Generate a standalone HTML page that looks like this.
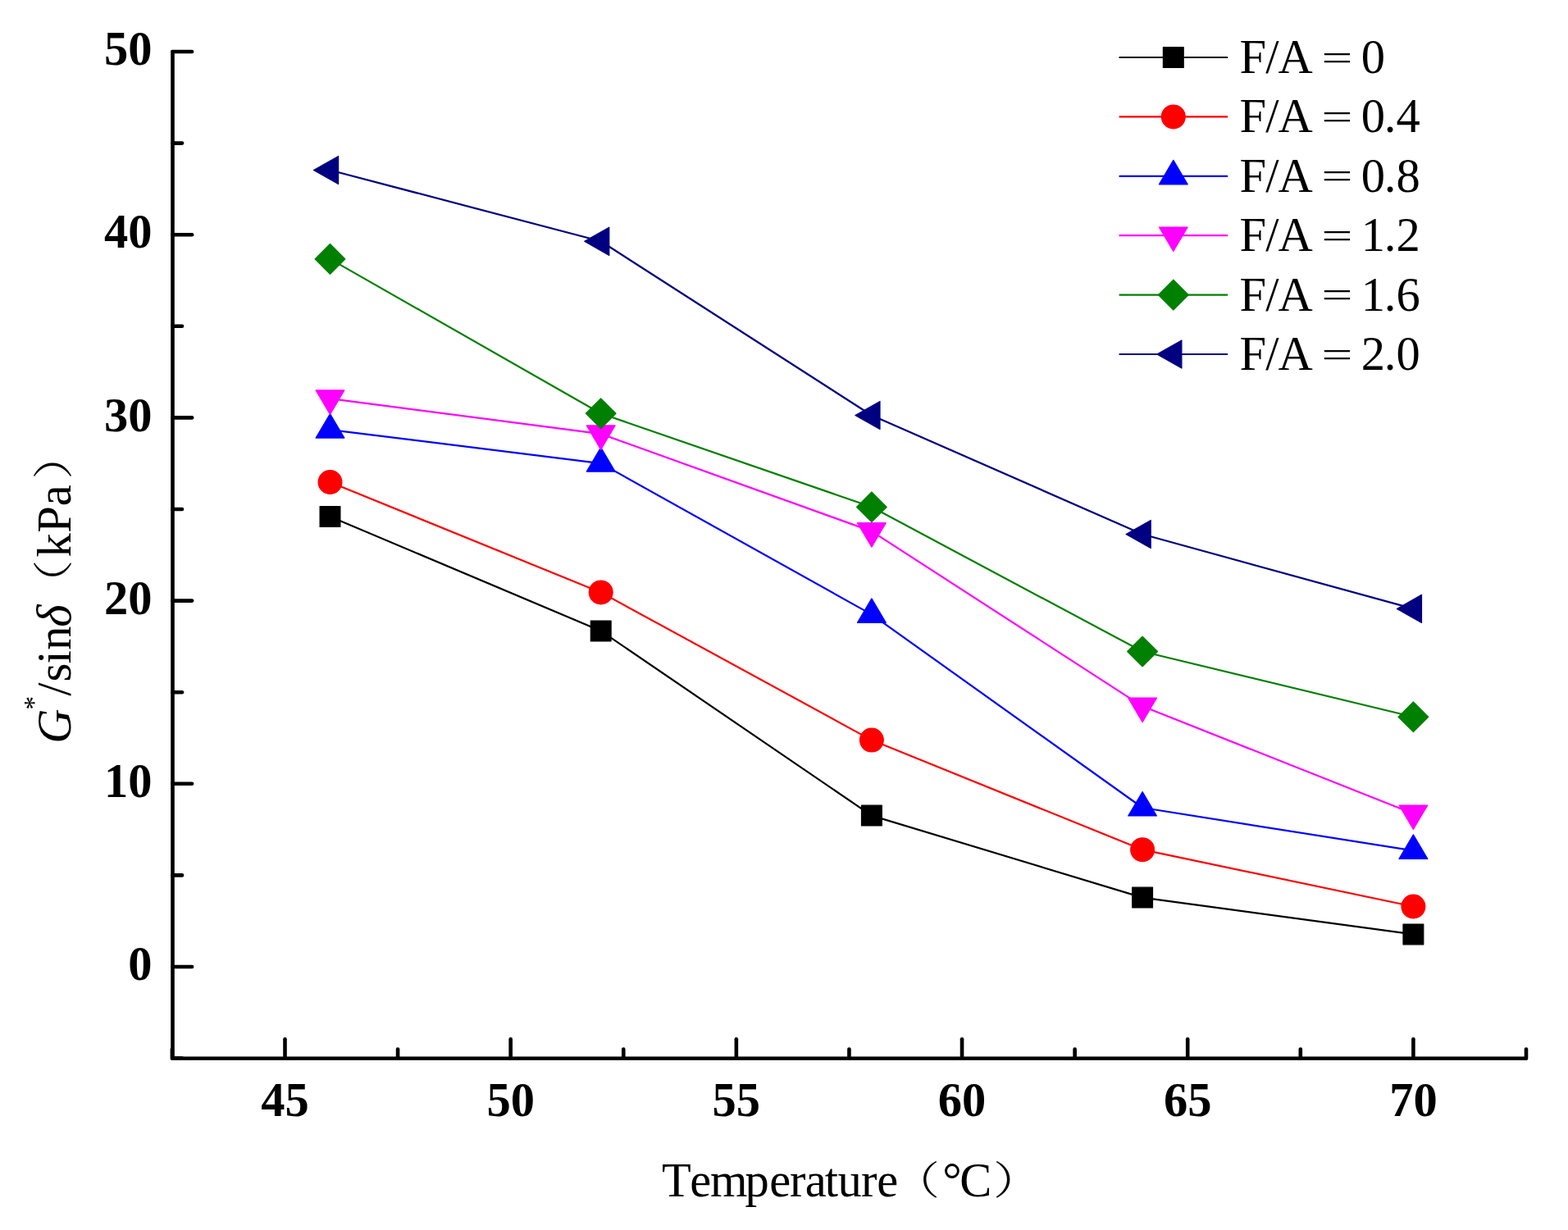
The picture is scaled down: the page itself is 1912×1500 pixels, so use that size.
<!DOCTYPE html>
<html><head><meta charset="utf-8"><title>G*/sin δ vs Temperature</title>
<style>html,body{margin:0;padding:0;background:#fff;}svg{display:block;}</style>
</head><body>
<svg width="1912" height="1500" viewBox="0 0 1912 1500"><g fill="none" stroke="#000" stroke-width="4.6" stroke-linecap="round" stroke-linejoin="round"><path d="M210.5,63.0 L210.5,1290.8 L1860.5,1290.8" /><path d="M210.5,1290.60 H222.00"/><path d="M210.5,1179.00 H234.10"/><path d="M210.5,1067.40 H222.00"/><path d="M210.5,955.80 H234.10"/><path d="M210.5,844.20 H222.00"/><path d="M210.5,732.60 H234.10"/><path d="M210.5,621.00 H222.00"/><path d="M210.5,509.40 H234.10"/><path d="M210.5,397.80 H222.00"/><path d="M210.5,286.20 H234.10"/><path d="M210.5,174.60 H222.00"/><path d="M210.5,63.00 H234.10"/><path d="M209.91,1290.8 V1279.50"/><path d="M347.50,1290.8 V1267.30"/><path d="M485.09,1290.8 V1279.50"/><path d="M622.68,1290.8 V1267.30"/><path d="M760.27,1290.8 V1279.50"/><path d="M897.86,1290.8 V1267.30"/><path d="M1035.45,1290.8 V1279.50"/><path d="M1173.04,1290.8 V1267.30"/><path d="M1310.63,1290.8 V1279.50"/><path d="M1448.22,1290.8 V1267.30"/><path d="M1585.81,1290.8 V1279.50"/><path d="M1723.40,1290.8 V1267.30"/><path d="M1860.99,1290.8 V1279.50"/></g>
<g font-family="'Liberation Serif', serif" font-weight="bold" font-size="58.5" fill="#000"><text x="185.5" y="1195.20" text-anchor="end">0</text><text x="185.5" y="972.00" text-anchor="end">10</text><text x="185.5" y="748.80" text-anchor="end">20</text><text x="185.5" y="525.60" text-anchor="end">30</text><text x="185.5" y="302.40" text-anchor="end">40</text><text x="185.5" y="79.20" text-anchor="end">50</text><text x="347.50" y="1360.7" text-anchor="middle">45</text><text x="622.68" y="1360.7" text-anchor="middle">50</text><text x="897.86" y="1360.7" text-anchor="middle">55</text><text x="1173.04" y="1360.7" text-anchor="middle">60</text><text x="1448.22" y="1360.7" text-anchor="middle">65</text><text x="1723.40" y="1360.7" text-anchor="middle">70</text></g>
<polyline points="402.50,630.00 732.70,769.40 1062.90,994.60 1393.10,1094.60 1723.40,1139.40" fill="none" stroke="#000000" stroke-width="2.2" stroke-linejoin="round"/>
<rect x="390.10" y="617.60" width="24.80" height="24.80" fill="#000000" stroke="#000000" stroke-width="1.2" stroke-linejoin="round"/><rect x="720.30" y="757.00" width="24.80" height="24.80" fill="#000000" stroke="#000000" stroke-width="1.2" stroke-linejoin="round"/><rect x="1050.50" y="982.20" width="24.80" height="24.80" fill="#000000" stroke="#000000" stroke-width="1.2" stroke-linejoin="round"/><rect x="1380.70" y="1082.20" width="24.80" height="24.80" fill="#000000" stroke="#000000" stroke-width="1.2" stroke-linejoin="round"/><rect x="1711.00" y="1127.00" width="24.80" height="24.80" fill="#000000" stroke="#000000" stroke-width="1.2" stroke-linejoin="round"/>
<polyline points="402.50,588.00 732.70,722.40 1062.90,902.60 1393.10,1036.20 1723.40,1105.50" fill="none" stroke="#FF0000" stroke-width="2.2" stroke-linejoin="round"/>
<circle cx="402.50" cy="588.00" r="14.4" fill="#FF0000" stroke="#FF0000" stroke-width="1.2" stroke-linejoin="round"/><circle cx="732.70" cy="722.40" r="14.4" fill="#FF0000" stroke="#FF0000" stroke-width="1.2" stroke-linejoin="round"/><circle cx="1062.90" cy="902.60" r="14.4" fill="#FF0000" stroke="#FF0000" stroke-width="1.2" stroke-linejoin="round"/><circle cx="1393.10" cy="1036.20" r="14.4" fill="#FF0000" stroke="#FF0000" stroke-width="1.2" stroke-linejoin="round"/><circle cx="1723.40" cy="1105.50" r="14.4" fill="#FF0000" stroke="#FF0000" stroke-width="1.2" stroke-linejoin="round"/>
<polyline points="402.50,524.10 732.70,565.10 1062.90,749.40 1393.10,985.00 1723.40,1037.40" fill="none" stroke="#0000FF" stroke-width="2.2" stroke-linejoin="round"/>
<polygon points="402.50,504.60 419.90,534.10 385.10,534.10" fill="#0000FF" stroke="#0000FF" stroke-width="1.2" stroke-linejoin="round"/><polygon points="732.70,545.60 750.10,575.10 715.30,575.10" fill="#0000FF" stroke="#0000FF" stroke-width="1.2" stroke-linejoin="round"/><polygon points="1062.90,729.90 1080.30,759.40 1045.50,759.40" fill="#0000FF" stroke="#0000FF" stroke-width="1.2" stroke-linejoin="round"/><polygon points="1393.10,965.50 1410.50,995.00 1375.70,995.00" fill="#0000FF" stroke="#0000FF" stroke-width="1.2" stroke-linejoin="round"/><polygon points="1723.40,1017.90 1740.80,1047.40 1706.00,1047.40" fill="#0000FF" stroke="#0000FF" stroke-width="1.2" stroke-linejoin="round"/>
<polyline points="402.50,486.10 732.70,529.10 1062.90,647.90 1393.10,861.30 1723.40,992.20" fill="none" stroke="#FF00FF" stroke-width="2.2" stroke-linejoin="round"/>
<polygon points="402.50,505.40 419.90,475.90 385.10,475.90" fill="#FF00FF" stroke="#FF00FF" stroke-width="1.2" stroke-linejoin="round"/><polygon points="732.70,548.40 750.10,518.90 715.30,518.90" fill="#FF00FF" stroke="#FF00FF" stroke-width="1.2" stroke-linejoin="round"/><polygon points="1062.90,667.20 1080.30,637.70 1045.50,637.70" fill="#FF00FF" stroke="#FF00FF" stroke-width="1.2" stroke-linejoin="round"/><polygon points="1393.10,880.60 1410.50,851.10 1375.70,851.10" fill="#FF00FF" stroke="#FF00FF" stroke-width="1.2" stroke-linejoin="round"/><polygon points="1723.40,1011.50 1740.80,982.00 1706.00,982.00" fill="#FF00FF" stroke="#FF00FF" stroke-width="1.2" stroke-linejoin="round"/>
<polyline points="402.50,315.90 732.70,504.20 1062.90,618.30 1393.10,794.50 1723.40,874.30" fill="none" stroke="#008000" stroke-width="2.2" stroke-linejoin="round"/>
<polygon points="402.50,297.50 420.90,315.90 402.50,334.30 384.10,315.90" fill="#008000" stroke="#008000" stroke-width="1.2" stroke-linejoin="round"/><polygon points="732.70,485.80 751.10,504.20 732.70,522.60 714.30,504.20" fill="#008000" stroke="#008000" stroke-width="1.2" stroke-linejoin="round"/><polygon points="1062.90,599.90 1081.30,618.30 1062.90,636.70 1044.50,618.30" fill="#008000" stroke="#008000" stroke-width="1.2" stroke-linejoin="round"/><polygon points="1393.10,776.10 1411.50,794.50 1393.10,812.90 1374.70,794.50" fill="#008000" stroke="#008000" stroke-width="1.2" stroke-linejoin="round"/><polygon points="1723.40,855.90 1741.80,874.30 1723.40,892.70 1705.00,874.30" fill="#008000" stroke="#008000" stroke-width="1.2" stroke-linejoin="round"/>
<polyline points="402.50,207.50 732.70,294.30 1062.90,506.50 1393.10,651.50 1723.40,742.40" fill="none" stroke="#000080" stroke-width="2.2" stroke-linejoin="round"/>
<polygon points="382.50,207.50 412.60,190.40 412.60,224.60" fill="#000080" stroke="#000080" stroke-width="1.2" stroke-linejoin="round"/><polygon points="712.70,294.30 742.80,277.20 742.80,311.40" fill="#000080" stroke="#000080" stroke-width="1.2" stroke-linejoin="round"/><polygon points="1042.90,506.50 1073.00,489.40 1073.00,523.60" fill="#000080" stroke="#000080" stroke-width="1.2" stroke-linejoin="round"/><polygon points="1373.10,651.50 1403.20,634.40 1403.20,668.60" fill="#000080" stroke="#000080" stroke-width="1.2" stroke-linejoin="round"/><polygon points="1703.40,742.40 1733.50,725.30 1733.50,759.50" fill="#000080" stroke="#000080" stroke-width="1.2" stroke-linejoin="round"/>
<path d="M1364.6,70.00 H1497.1" stroke="#000000" stroke-width="2.2" fill="none"/><rect x="1418.40" y="57.60" width="24.80" height="24.80" fill="#000000" stroke="#000000" stroke-width="1.2" stroke-linejoin="round"/><text x="1511.6 1543.15 1558.55" y="89.10" font-family="'Liberation Serif', serif" font-size="58.5" fill="#000">F/A</text><text transform="translate(1630.5,69.55) scale(1.148,0.775)" x="-16.5" y="19.5" font-family="'Liberation Serif', serif" font-size="58.5" fill="#000">=</text><text x="1659.80" y="89.10" font-family="'Liberation Serif', serif" font-size="58.5" fill="#000">0</text><path d="M1364.6,142.40 H1497.1" stroke="#FF0000" stroke-width="2.2" fill="none"/><circle cx="1430.80" cy="142.40" r="14.4" fill="#FF0000" stroke="#FF0000" stroke-width="1.2" stroke-linejoin="round"/><text x="1511.6 1543.15 1558.55" y="161.48" font-family="'Liberation Serif', serif" font-size="58.5" fill="#000">F/A</text><text transform="translate(1630.5,141.93) scale(1.148,0.775)" x="-16.5" y="19.5" font-family="'Liberation Serif', serif" font-size="58.5" fill="#000">=</text><text x="1659.80 1687.85 1702.50" y="161.48" font-family="'Liberation Serif', serif" font-size="58.5" fill="#000">0.4</text><path d="M1364.6,214.80 H1497.1" stroke="#0000FF" stroke-width="2.2" fill="none"/><polygon points="1430.80,195.30 1448.20,224.80 1413.40,224.80" fill="#0000FF" stroke="#0000FF" stroke-width="1.2" stroke-linejoin="round"/><text x="1511.6 1543.15 1558.55" y="233.86" font-family="'Liberation Serif', serif" font-size="58.5" fill="#000">F/A</text><text transform="translate(1630.5,214.31) scale(1.148,0.775)" x="-16.5" y="19.5" font-family="'Liberation Serif', serif" font-size="58.5" fill="#000">=</text><text x="1659.80 1687.85 1702.50" y="233.86" font-family="'Liberation Serif', serif" font-size="58.5" fill="#000">0.8</text><path d="M1364.6,287.20 H1497.1" stroke="#FF00FF" stroke-width="2.2" fill="none"/><polygon points="1430.80,306.50 1448.20,277.00 1413.40,277.00" fill="#FF00FF" stroke="#FF00FF" stroke-width="1.2" stroke-linejoin="round"/><text x="1511.6 1543.15 1558.55" y="306.24" font-family="'Liberation Serif', serif" font-size="58.5" fill="#000">F/A</text><text transform="translate(1630.5,286.69) scale(1.148,0.775)" x="-16.5" y="19.5" font-family="'Liberation Serif', serif" font-size="58.5" fill="#000">=</text><text x="1659.80 1687.85 1702.50" y="306.24" font-family="'Liberation Serif', serif" font-size="58.5" fill="#000">1.2</text><path d="M1364.6,359.60 H1497.1" stroke="#008000" stroke-width="2.2" fill="none"/><polygon points="1430.80,341.20 1449.20,359.60 1430.80,378.00 1412.40,359.60" fill="#008000" stroke="#008000" stroke-width="1.2" stroke-linejoin="round"/><text x="1511.6 1543.15 1558.55" y="378.62" font-family="'Liberation Serif', serif" font-size="58.5" fill="#000">F/A</text><text transform="translate(1630.5,359.07) scale(1.148,0.775)" x="-16.5" y="19.5" font-family="'Liberation Serif', serif" font-size="58.5" fill="#000">=</text><text x="1659.80 1687.85 1702.50" y="378.62" font-family="'Liberation Serif', serif" font-size="58.5" fill="#000">1.6</text><path d="M1364.6,432.00 H1497.1" stroke="#000080" stroke-width="2.2" fill="none"/><polygon points="1410.80,432.00 1440.90,414.90 1440.90,449.10" fill="#000080" stroke="#000080" stroke-width="1.2" stroke-linejoin="round"/><text x="1511.6 1543.15 1558.55" y="451.00" font-family="'Liberation Serif', serif" font-size="58.5" fill="#000">F/A</text><text transform="translate(1630.5,431.45) scale(1.148,0.775)" x="-16.5" y="19.5" font-family="'Liberation Serif', serif" font-size="58.5" fill="#000">=</text><text x="1659.80 1687.85 1702.50" y="451.00" font-family="'Liberation Serif', serif" font-size="58.5" fill="#000">2.0</text>
<text x="807.10 841.25 866.10 908.60 938.30 963.05 981.65 1005.65 1021.45 1050.10 1069.25" y="1459" font-family="'Liberation Serif', serif" font-size="58.5" fill="#000">Temperature</text>
<text x="1149.2 1170.35" y="1459" font-family="'Liberation Serif', serif" font-size="58.5" fill="#000">°C</text>
<text transform="translate(1088.66,1456.29) scale(0.5714,0.4785)" font-family="'Noto Serif CJK SC', serif" font-weight="300" font-size="100" fill="#000">（</text>
<text transform="translate(1210.97,1456.29) scale(0.5893,0.4785)" font-family="'Noto Serif CJK SC', serif" font-weight="300" font-size="100" fill="#000">）</text>
<g transform="translate(85.5,904) rotate(-90)" font-family="'Liberation Serif', serif" font-size="58.5" fill="#000"><text x="-2.8" y="0" font-style="italic">G</text><text x="38.35" y="-33.2" font-size="34">*</text><text x="55.30 72.50 94.40 111.30" y="0">/sin</text><text x="139.2" y="0" font-style="italic">δ</text><text x="224.6 254.25 286.7" y="0">kPa</text><text transform="translate(163.03,-2.83) scale(0.5857,0.4925)" font-family="'Noto Serif CJK SC', serif" font-weight="300" font-size="100" fill="#000">（</text><text transform="translate(319.30,-2.83) scale(0.5857,0.4925)" font-family="'Noto Serif CJK SC', serif" font-weight="300" font-size="100" fill="#000">）</text></g></svg>
</body></html>
